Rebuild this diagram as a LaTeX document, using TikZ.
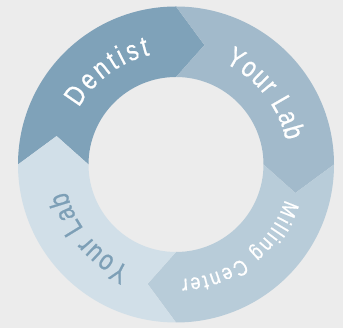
\documentclass[tikz,border=0pt]{standalone}
\usepackage{fontspec}
\setmainfont{Liberation Sans}[FakeBold=0.8]
\definecolor{bg}{HTML}{ECECEC}
\definecolor{segA}{HTML}{7FA2B9}
\definecolor{segB}{HTML}{A2BACB}
\definecolor{segC}{HTML}{B8CCD9}
\definecolor{segD}{HTML}{D1DFE8}
\definecolor{txtD}{HTML}{7D9FB6}
\def\rtsp{\ }
% #1 name prefix, #2 radius, #3 centre angle, #4 tracking, #5 x scale, #6 y scale, #7 colour, #8 list of characters
\newcommand\ringtext[8]{%
  \begingroup
  \gdef\rtTotal{0}%
  \foreach \c in {#8}{%
    \pgfmathsetmacro\rtW{#5*width("\c")}%
    \pgfmathsetmacro\rtT{\rtTotal+\rtW+#4}%
    \xdef\rtTotal{\rtT}%
  }%
  \pgfmathsetmacro\rtTot{\rtTotal-#4}%
  \xdef\rtTot{\rtTot}%
  \gdef\rtPos{0}%
  \foreach \c [count=\i] in {#8}{%
    \pgfmathsetmacro\rtW{#5*width("\c")}%
    \pgfmathsetmacro\rtAng{#3+(\rtTot/2-\rtPos-\rtW/2)/#2*180/pi}%
    \node[ringchar, text=#7, rotate=\rtAng-90] (#1\i) at (\rtAng:#2) {\scalebox{#5}[#6]{\c}};
    \pgfmathsetmacro\rtP{\rtPos+\rtW+#4}%
    \xdef\rtPos{\rtP}%
  }%
  \endgroup
}
\begin{document}
\begin{tikzpicture}[x=1pt,y=1pt,
  ringchar/.style={inner sep=0pt, anchor=base}]
\fill[bg] (0,0) rectangle (343,328);
\useasboundingbox (0,0) rectangle (343,328);
\def\Ro{158}\def\Ri{87.5}\def\Rm{122.75}\def\tip{13.4}
\begin{scope}[shift={(176,163.5)}]
  \foreach \A/\col in {180/segA, 90/segB, 0/segC, -90/segD}{
    \pgfmathsetmacro\B{\A-90}
    \fill[\col] (\A:\Ro) arc[start angle=\A, end angle=\B, radius=\Ro]
      -- (\B-\tip:\Rm) -- (\B:\Ri)
      arc[start angle=\B, end angle=\A, radius=\Ri]
      -- (\A-\tip:\Rm) -- cycle;
  }
  \ringtext{d}{112.5}{126.5}{3.2}{2.3}{2.85}{white}{D,e,n,t,i,s,t}
  \ringtext{y}{112.5}{38.3}{1.3}{2.3}{2.85}{white}{Y,o,u,r,\rtsp,L,a,b}
  \ringtext{m}{114.5}{-52.6}{2.2}{1.8}{2.2}{white}{M,i,l,l,i,n,g,\rtsp,C,e,n,t,e,r}
  \ringtext{z}{112.5}{220}{1.3}{2.3}{2.85}{txtD}{Y,o,u,r,\rtsp,L,a,b}
\end{scope}
\end{tikzpicture}
\end{document}
